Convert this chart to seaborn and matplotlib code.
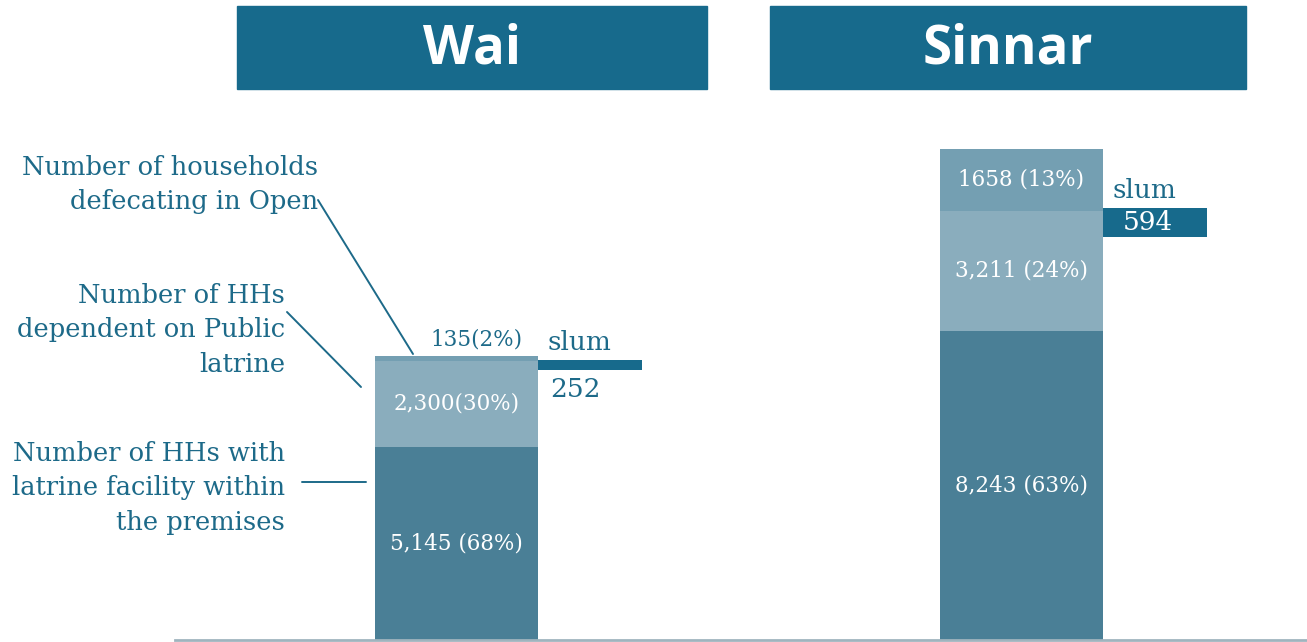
import matplotlib
matplotlib.use("Agg")
import matplotlib.pyplot as plt
import seaborn as sns
import pandas as pd

# ---------------- data ----------------
cities = ["Wai", "Sinnar"]
own_latrine = [5145, 8243]          # HHs with latrine facility within premises
public_latrine = [2300, 3211]       # HHs dependent on public latrine
open_defecation = [135, 1658]       # HHs defecating in open
slum = [252, 594]

labels_own = ["5,145 (68%)", "8,243 (63%)"]
labels_public = ["2,300(30%)", "3,211 (24%)"]
labels_open = ["135(2%)", "1658 (13%)"]
slum_labels = ["252", "594"]
category_names = [
    "Number of households\ndefecating in Open",
    "Number of HHs\ndependent on Public\nlatrine",
    "Number of HHs with\nlatrine facility within\nthe premises",
]

# ---------------- style ----------------
C_OWN = "#4a7f96"
C_PUB = "#8aadbd"
C_OPEN = "#749fb2"
C_DARK = "#176a8c"
C_TEXT = "#1d6a89"
C_BASE = "#a0b4be"
SERIF = "DejaVu Serif"

sns.set_theme(style="white")
plt.rcParams["font.family"] = ["DejaVu Sans"]

W, H = 1307, 642
fig = plt.figure(figsize=(W / 100, H / 100), dpi=100)
ax = fig.add_axes([175 / W, (H - 639.5) / H, (W - 175) / W, 639.5 / H])

df = pd.DataFrame({
    "city": cities,
    "own": own_latrine,
    "pub": public_latrine,
    "open": open_defecation,
})
df["own_pub"] = df["own"] + df["pub"]
df["total"] = df["own_pub"] + df["open"]

BW = 0.287
for col, c in [("total", C_OPEN), ("own_pub", C_PUB), ("own", C_OWN)]:
    sns.barplot(data=df, x="city", y=col, color=c, saturation=1, width=BW,
                ax=ax, linewidth=0)

ax.set_xlim(-0.4982, 1.5053)
ax.set_ylim(0, 17080)
ax.set_xlabel("")
ax.set_ylabel("")
ax.set_xticks([])
ax.set_yticks([])
for s in ["top", "left", "right"]:
    ax.spines[s].set_visible(False)
ax.spines["bottom"].set_color(C_BASE)
ax.spines["bottom"].set_linewidth(2.0)
ax.spines["bottom"].set_zorder(5)

LFS = 15.5
# segment labels
for i in range(len(cities)):
    own, pub, op = own_latrine[i], public_latrine[i], open_defecation[i]
    ax.text(i, own / 2, labels_own[i], ha="center", va="center",
            color="white", fontsize=LFS, family=SERIF)
    ax.text(i, own + pub / 2, labels_public[i], ha="center", va="center",
            color="white", fontsize=LFS, family=SERIF)

# open-defecation labels: inside for Sinnar, above bar for Wai
tot_w = own_latrine[0] + public_latrine[0] + open_defecation[0]
ax.text(0.035, tot_w + 150, labels_open[0], ha="center", va="bottom",
        color=C_TEXT, fontsize=LFS, family=SERIF)
ax.text(1, own_latrine[1] + public_latrine[1] + open_defecation[1] / 2,
        labels_open[1], ha="center", va="center", color="white",
        fontsize=LFS, family=SERIF)

# slum markers (layout of boxes)
slum_bottom = [7200, 10748]
slum_height = [270, 785]
SW = 0.185
for i in range(len(cities)):
    ax.bar(i + BW / 2, slum_height[i], width=SW, bottom=slum_bottom[i],
           align="edge", color=C_DARK, linewidth=0)
    ax.text(i + BW / 2 + 0.018, slum_bottom[i] + slum_height[i] + 120, "slum",
            ha="left", va="bottom", color=C_TEXT, fontsize=19, family=SERIF)
# slum values
ax.text(BW / 2 + 0.022, slum_bottom[0] - 180, slum_labels[0], ha="left",
        va="top", color=C_TEXT, fontsize=19, family=SERIF)
ax.text(1 + BW / 2 + 0.035, slum_bottom[1] + slum_height[1] / 2, slum_labels[1],
        ha="left", va="center", color="white", fontsize=19, family=SERIF)


def fx(px):
    return px / W


def fy(py):
    return 1 - py / H


# title boxes
for name, (x0, x1) in zip(cities, [(237, 707), (770, 1246)]):
    fig.patches.append(plt.Rectangle((fx(x0), fy(89)), fx(x1 - x0), 83 / H,
                                     transform=fig.transFigure,
                                     color=C_DARK, zorder=0))
    fig.text(fx((x0 + x1) / 2), fy(49), name, ha="center", va="center",
             color="white", fontsize=38, fontweight="bold", family="Open Sans")

# left category labels
CFS = 18.5
LS = 1.47
fig.text(fx(318), fy(155), category_names[0], ha="right", va="top",
         color=C_TEXT, fontsize=CFS, family=SERIF, linespacing=LS)
fig.text(fx(285), fy(283), category_names[1], ha="right", va="top",
         color=C_TEXT, fontsize=CFS, family=SERIF, linespacing=LS)
fig.text(fx(285), fy(441), category_names[2], ha="right", va="top",
         color=C_TEXT, fontsize=CFS, family=SERIF, linespacing=LS)

# leader lines
for (x0, y0), (x1, y1) in [((318, 200), (413, 354)),
                           ((287, 312), (361, 387)),
                           ((302, 482), (366, 482))]:
    fig.add_artist(plt.Line2D([fx(x0), fx(x1)], [fy(y0), fy(y1)],
                              transform=fig.transFigure, color=C_TEXT, lw=1.4))

fig.savefig("out.png", dpi=100)
